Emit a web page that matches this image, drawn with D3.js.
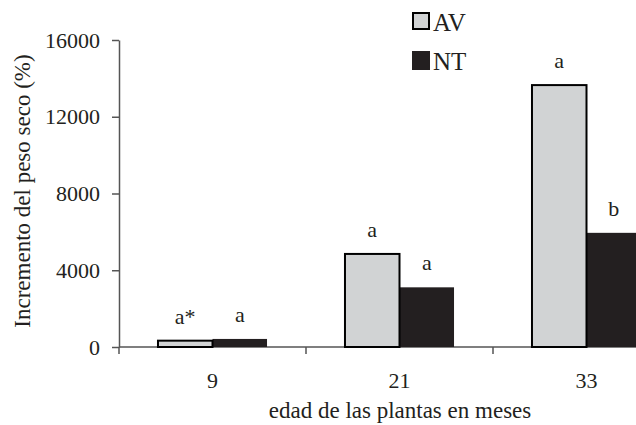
<!DOCTYPE html>
<html>
<head>
<meta charset="utf-8">
<script src="https://cdn.jsdelivr.net/npm/d3@7"></script>
<style>
  body { margin: 0; background: #fff; }
  svg { display: block; overflow: hidden; }
</style>
</head>
<body>
<div id="chart"></div>
<script>
(function () {
  // Data
  const ages = ["9", "21", "33"];
  const series = ["AV", "NT"];
  const valuesAV = [330, 4850, 13650];
  const valuesNT = [420, 3110, 5950];
  const lettersAV = ["a*", "a", "a"];
  const lettersNT = ["a", "a", "b"];
  const yTicks = [0, 4000, 8000, 12000, 16000];

  const W = 636, H = 425;
  const left = 119, top = 40, bottom = 347;
  const bandStep = 187; // last group runs past the right edge, as in the original
  const serif = "Liberation Serif";

  const colors = { AV: "#d1d3d4", NT: "#231f20" };

  const svg = d3.select("#chart").append("svg")
      .attr("width", W)
      .attr("height", H)
      .attr("font-family", serif);

  // Scales
  const x0 = d3.scaleBand().domain(ages).range([left, left + bandStep * ages.length]).padding(0);
  const x1 = d3.scaleBand().domain(series).range([0, x0.bandwidth()]).paddingInner(0).paddingOuter(0.715);
  const y = d3.scaleLinear().domain([0, 16000]).range([bottom, top]);

  // Y axis
  const yAxis = svg.append("g")
      .attr("transform", `translate(${left},0)`)
      .call(d3.axisLeft(y).tickValues(yTicks).tickFormat(d3.format("d")).tickSize(7).tickSizeOuter(0).tickPadding(12));
  yAxis.attr("font-family", serif).attr("font-size", 22);
  yAxis.select(".domain").attr("stroke", "#555").attr("stroke-width", 1.5);
  yAxis.selectAll(".tick line").attr("stroke", "#555").attr("stroke-width", 1.5);
  yAxis.selectAll(".tick text").attr("fill", "#231f20");

  // X axis line and group boundary ticks
  svg.append("line")
      .attr("x1", left).attr("x2", W)
      .attr("y1", y(0)).attr("y2", y(0))
      .attr("stroke", "#555").attr("stroke-width", 1.5);

  svg.selectAll(".xtick")
      .data(ages)
      .join("line")
      .attr("class", "xtick")
      .attr("x1", d => x0(d)).attr("x2", d => x0(d))
      .attr("y1", y(0)).attr("y2", y(0) + 7)
      .attr("stroke", "#555").attr("stroke-width", 1.5);

  // Category labels
  const xAxis = svg.append("g")
      .attr("transform", `translate(0,${y(0)})`)
      .call(d3.axisBottom(x0).tickSize(0).tickPadding(25));
  xAxis.attr("font-family", serif).attr("font-size", 22);
  xAxis.select(".domain").remove();
  xAxis.selectAll(".tick text").attr("fill", "#231f20");

  // Bars
  const rows = ages.map((a, i) => ({ age: a, AV: valuesAV[i], NT: valuesNT[i], lAV: lettersAV[i], lNT: lettersNT[i] }));

  const groups = svg.selectAll(".group")
      .data(rows)
      .join("g")
      .attr("class", "group")
      .attr("transform", d => `translate(${x0(d.age)},0)`);

  groups.append("rect")
      .attr("x", x1("NT"))
      .attr("width", x1.bandwidth())
      .attr("y", d => y(d.NT))
      .attr("height", d => y(0) - y(d.NT))
      .attr("fill", colors.NT);

  groups.append("rect")
      .attr("x", x1("AV"))
      .attr("width", x1.bandwidth())
      .attr("y", d => y(d.AV))
      .attr("height", d => y(0) - y(d.AV))
      .attr("fill", colors.AV)
      .attr("stroke", "#000")
      .attr("stroke-width", 2);

  // Significance letters
  groups.append("text")
      .attr("x", x1("AV") + x1.bandwidth() / 2)
      .attr("y", d => y(d.AV) - 17)
      .attr("text-anchor", "middle")
      .attr("fill", "#231f20")
      .attr("font-size", 22)
      .text(d => d.lAV);

  groups.append("text")
      .attr("x", x1("NT") + x1.bandwidth() / 2)
      .attr("y", d => y(d.NT) - 17)
      .attr("text-anchor", "middle")
      .attr("fill", "#231f20")
      .attr("font-size", 22)
      .text(d => d.lNT);

  // Legend
  const legend = svg.append("g").attr("transform", "translate(412,12)");
  series.forEach((s, i) => {
    const g = legend.append("g").attr("transform", `translate(0,${i * 39})`);
    g.append("rect")
        .attr("x", s === "AV" ? 1 : 0).attr("y", s === "AV" ? 1 : 0)
        .attr("width", s === "AV" ? 16 : 18)
        .attr("height", s === "AV" ? 16 : 19)
        .attr("fill", colors[s])
        .attr("stroke", s === "AV" ? "#000" : "none")
        .attr("stroke-width", 2);
    g.append("text")
        .attr("x", 21)
        .attr("y", 18.5)
        .attr("fill", "#231f20")
        .attr("font-size", 25)
        .text(s);
  });

  // Axis titles
  svg.append("text")
      .attr("transform", "translate(30,191) rotate(-90)")
      .attr("text-anchor", "middle")
      .attr("fill", "#231f20")
      .attr("font-size", 23)
      .text("Incremento del peso seco (%)");

  svg.append("text")
      .attr("x", 400)
      .attr("y", 418)
      .attr("text-anchor", "middle")
      .attr("fill", "#231f20")
      .attr("font-size", 23)
      .text("edad de las plantas en meses");
})();
</script>
</body>
</html>
